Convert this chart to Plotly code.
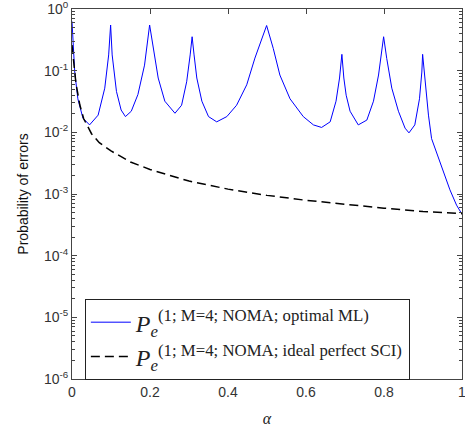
import plotly.graph_objects as go

# Blue curve: optimal ML (alpha, probability of error)
alpha_ml = [0.000, 0.004, 0.007, 0.015, 0.028, 0.045, 0.067, 0.084, 0.094, 0.099,
            0.103, 0.114, 0.126, 0.137, 0.152, 0.169, 0.186, 0.199,
            0.208, 0.221, 0.238, 0.264, 0.281, 0.294, 0.303, 0.308,
            0.313, 0.320, 0.333, 0.350, 0.371, 0.397, 0.422, 0.448, 0.469, 0.482, 0.499,
            0.516, 0.533, 0.559, 0.593, 0.619, 0.640, 0.662, 0.677, 0.686, 0.692,
            0.697, 0.703, 0.713, 0.734, 0.756, 0.773, 0.786, 0.794, 0.799,
            0.807, 0.820, 0.837, 0.854, 0.864, 0.879, 0.891, 0.897, 0.899,
            0.905, 0.914, 0.922, 0.935, 0.952, 0.969, 0.986, 1.000]
pe_ml = [0.63, 0.20, 0.095, 0.035, 0.017, 0.0132, 0.019, 0.052, 0.18, 0.55,
         0.18, 0.046, 0.023, 0.018, 0.022, 0.041, 0.123, 0.55,
         0.23, 0.076, 0.032, 0.0204, 0.0275, 0.066, 0.18, 0.355,
         0.18, 0.076, 0.032, 0.018, 0.0148, 0.018, 0.0275, 0.059, 0.16, 0.28, 0.54,
         0.23, 0.085, 0.035, 0.018, 0.0132, 0.012, 0.0148, 0.032, 0.076, 0.184,
         0.076, 0.040, 0.022, 0.0132, 0.0158, 0.032, 0.085, 0.204, 0.355,
         0.158, 0.052, 0.022, 0.0117, 0.0098, 0.0132, 0.035, 0.095, 0.184,
         0.066, 0.019, 0.0079, 0.0046, 0.0022, 0.00117, 0.00066, 0.00047]

# Black dashed curve: ideal perfect SCI
alpha_sci = [0.0, 0.005, 0.01, 0.02, 0.03, 0.05, 0.07, 0.1, 0.15, 0.2, 0.25, 0.3,
             0.4, 0.5, 0.6, 0.7, 0.8, 0.9, 1.0]
pe_sci = [0.26, 0.112, 0.063, 0.028, 0.0166, 0.0095, 0.0068, 0.005, 0.0033, 0.0025,
          0.0020, 0.00162, 0.0012, 0.00095, 0.00079, 0.00068, 0.00059, 0.00052, 0.00048]

x_ticks = [0, 0.2, 0.4, 0.6, 0.8, 1]
x_ticktext = ["0", "0.2", "0.4", "0.6", "0.8", "1"]
y_ticks = [1e-6, 1e-5, 1e-4, 1e-3, 1e-2, 1e-1, 1]
y_ticktext = ["10<sup>-6</sup>", "10<sup>-5</sup>", "10<sup>-4</sup>", "10<sup>-3</sup>",
              "10<sup>-2</sup>", "10<sup>-1</sup>", "10<sup>0</sup>"]

name_ml = "<i>P</i><sub><i>e</i></sub><sup>(1; M=4; NOMA; optimal ML)</sup>"
name_sci = "<i>P</i><sub><i>e</i></sub><sup>(1; M=4; NOMA; ideal perfect SCI)</sup>"

fig = go.Figure()
fig.add_trace(go.Scatter(x=alpha_ml, y=pe_ml, mode="lines", name=name_ml,
                         line=dict(color="#0000ff", width=1)))
fig.add_trace(go.Scatter(x=alpha_sci, y=pe_sci, mode="lines", name=name_sci,
                         line=dict(color="#000000", width=1.5, dash="9px,5px")))

axis_common = dict(showline=True, linecolor="#444", linewidth=1, mirror="ticks",
                   ticks="inside", tickcolor="#444", showgrid=False, zeroline=False,
                   automargin=False, ticklabeloverflow="allow",
                   tickfont=dict(family="Liberation Sans, Arial", size=14, color="#333"))

fig.update_xaxes(range=[0, 1], tickvals=x_ticks, ticktext=x_ticktext, ticklen=5,
                 title=dict(text="<i>α</i>", font=dict(family="Liberation Serif", size=16, color="#222"),
                            standoff=15),
                 **axis_common)
fig.update_yaxes(type="log", range=[-6, 0], tickvals=y_ticks, ticktext=y_ticktext, ticklen=5,
                 minor=dict(ticks="inside", ticklen=3, tickcolor="#444", dtick="D1", showgrid=False),
                 title=dict(text="Probability of errors",
                            font=dict(family="Liberation Sans, Arial", size=14, color="#111"),
                            standoff=12),
                 **axis_common)

fig.update_layout(
    width=465, height=427,
    margin=dict(l=72, r=3, t=9, b=48),
    plot_bgcolor="white", paper_bgcolor="white",
    legend=dict(x=0.033, y=0.216, xanchor="left", yanchor="top",
                bordercolor="#222", borderwidth=1, bgcolor="white",
                font=dict(family="Liberation Serif, Times New Roman", size=24, color="#222"),
                tracegroupgap=0, itemwidth=40),
)

fig.write_html("out.html", config={"displayModeBar": False},
               post_script="document.body.style.margin='0';document.body.style.overflow='hidden';")
